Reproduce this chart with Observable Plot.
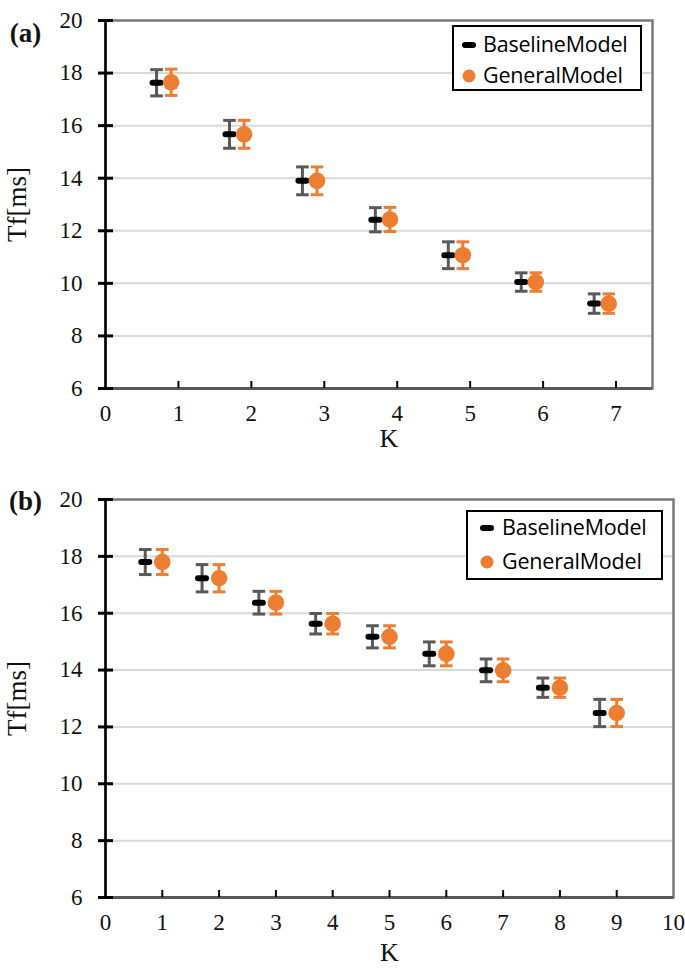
<!DOCTYPE html>
<html><head><meta charset="utf-8">
<script src="https://cdn.jsdelivr.net/npm/d3@7"></script>
<script src="https://cdn.jsdelivr.net/npm/@observablehq/plot@0.6"></script>
<style>
body{margin:0;background:#fff;}
#wrap{position:relative;width:685px;height:968px;overflow:hidden;background:#fff;}
.panel{position:absolute;left:0;}
.legend{position:absolute;border:2.5px solid #000;background:#fff;box-sizing:border-box;font-family:"Open Sans",sans-serif;font-size:21.5px;color:#000;}
.mk{position:absolute;transform:translate(-50%,-50%);}
.dash{width:14px;height:6px;border-radius:3px;background:#000;}
.circ{width:13px;height:13px;border-radius:50%;background:#ED7D31;}
.txt{position:absolute;white-space:nowrap;line-height:1;transform:translateY(-55%);letter-spacing:-0.2px;}
</style>
</head><body>
<div id="wrap"></div>
<script>
// ---- data (panel a) ----
const kA = [1, 2, 3, 4, 5, 6, 7];
const baselineA = [17.63, 15.67, 13.90, 12.42, 11.07, 10.05, 9.23];
const generalA  = [17.65, 15.67, 13.90, 12.43, 11.07, 10.05, 9.23];
const errA      = [0.50, 0.53, 0.53, 0.46, 0.51, 0.35, 0.37];
const xTicksA = [0, 1, 2, 3, 4, 5, 6, 7];
// ---- data (panel b) ----
const kB = [1, 2, 3, 4, 5, 6, 7, 8, 9];
const baselineB = [17.80, 17.23, 16.37, 15.63, 15.17, 14.57, 13.99, 13.38, 12.49];
const generalB  = [17.80, 17.23, 16.37, 15.63, 15.17, 14.57, 13.99, 13.38, 12.49];
const errB      = [0.44, 0.48, 0.40, 0.36, 0.39, 0.42, 0.40, 0.34, 0.48];
const xTicksB = [0, 1, 2, 3, 4, 5, 6, 7, 8, 9, 10];
const yTicks = [6, 8, 10, 12, 14, 16, 18, 20];
const seriesNames = ["BaselineModel", "GeneralModel"];

const ORANGE = "#ED7D31", GREY = "#595959";
const SERIF = "Liberation Serif";
const hline = {draw(ctx, size){ const r = Math.sqrt(size / Math.PI); ctx.moveTo(-r, 0); ctx.lineTo(r, 0); }};
const vline = {draw(ctx, size){ const r = Math.sqrt(size / Math.PI); ctx.moveTo(0, -r); ctx.lineTo(0, r); }};

function rows(k, v, e, off){ return k.map((kk, i) => ({x: kk + off, y: v[i], lo: v[i] - e[i], hi: v[i] + e[i]})); }

function panel(o){
  const rb = rows(o.k, o.base, o.err, o.offB);
  const rg = rows(o.k, o.gen, o.err, o.offG);
  const yt = yTicks.map(v => ({x: 0, y: v}));
  const xt = o.xTicks.filter(v => v > 0 && v < o.xMax).map(v => ({x: v, y: 6}));
  return Plot.plot({
    width: 685, height: o.height,
    marginTop: o.mt, marginBottom: o.mb, marginLeft: 105, marginRight: o.mr,
    x: {domain: [0, o.xMax], label: null},
    y: {domain: [6, 20], label: null},
    style: {fontFamily: SERIF, fontSize: "23px", background: "transparent", overflow: "visible"},
    marks: [
      Plot.ruleY(yTicks.filter(v => v > 6 && v < 20), {stroke: "#d9d9d9", strokeWidth: 2}),
      Plot.frame({stroke: "#7a7a7a", strokeWidth: 2.5}),
      Plot.ruleY([6], {stroke: "#595959", strokeWidth: 3}),
      Plot.ruleX([0], {stroke: "#000", strokeWidth: 2.5}),
      Plot.axisY(yTicks, {tickSize: 0, tickPadding: 23, fill: "#111", fontSize: 23, fontFamily: SERIF, label: null}),
      Plot.axisX(o.xTicks, {tickSize: 0, tickPadding: 16, fill: "#111", fontSize: 23, fontFamily: SERIF, label: null}),
      // y ticks crossing the axis
      Plot.dot(yt, {x: "x", y: "y", symbol: hline, r: 7.5, stroke: "#000", fill: "none", strokeWidth: 3}),
      // x ticks inside
      Plot.dot(xt, {x: "x", y: "y", dy: -4, symbol: vline, r: 3.5, stroke: "#000", fill: "none", strokeWidth: 2}),
      // baseline error bars
      Plot.ruleX(rb, {x: "x", y1: "lo", y2: "hi", stroke: GREY, strokeWidth: 3}),
      Plot.dot(rb, {x: "x", y: "hi", symbol: hline, r: 6.3, stroke: GREY, fill: "none", strokeWidth: 3}),
      Plot.dot(rb, {x: "x", y: "lo", symbol: hline, r: 6.3, stroke: GREY, fill: "none", strokeWidth: 3}),
      Plot.dot(rb, {x: "x", y: "y", symbol: hline, r: 4, stroke: "#000", fill: "none", strokeWidth: 6, strokeLinecap: "round"}),
      // general error bars
      Plot.ruleX(rg, {x: "x", y1: "lo", y2: "hi", stroke: ORANGE, strokeWidth: 3}),
      Plot.dot(rg, {x: "x", y: "hi", symbol: hline, r: 6.3, stroke: ORANGE, fill: "none", strokeWidth: 3}),
      Plot.dot(rg, {x: "x", y: "lo", symbol: hline, r: 6.3, stroke: ORANGE, fill: "none", strokeWidth: 3}),
      Plot.dot(rg, {x: "x", y: "y", r: 8.3, fill: ORANGE, stroke: "none"}),
      // labels
      Plot.text(["Tf[ms]"], {frameAnchor: "left", textAnchor: "middle", rotate: -90, dx: -88, fontSize: 27, fontFamily: SERIF, fill: "#111"}),
      Plot.text(["K"], {frameAnchor: "bottom", textAnchor: "middle", dx: o.kDx, dy: o.kDy, fontSize: 26, fontFamily: SERIF, fill: "#111"}),
      Plot.text([o.tag], {frameAnchor: "top-left", textAnchor: "middle", dx: -80, dy: o.tagDy, fontSize: 27, fontWeight: "bold", fontFamily: SERIF, fill: "#111"})
    ]
  });
}

const wrap = document.getElementById("wrap");
function addPanel(svg, top){ const d = document.createElement("div"); d.className = "panel"; d.style.top = top + "px"; d.appendChild(svg); wrap.appendChild(d); }
function addLegend(box){
  const L = document.createElement("div"); L.className = "legend";
  Object.assign(L.style, {left: box.left + "px", top: box.top + "px", width: box.w + "px", height: box.h + "px"});
  seriesNames.forEach((name, i) => {
    const y = box.rows[i];
    const m = document.createElement("div"); m.className = "mk " + (i === 0 ? "dash" : "circ");
    m.style.left = box.mx + "px"; m.style.top = y + "px"; L.appendChild(m);
    const t = document.createElement("div"); t.className = "txt"; t.textContent = name;
    t.style.left = box.tx + "px"; t.style.top = y + "px"; L.appendChild(t);
  });
  wrap.appendChild(L);
}

addPanel(panel({k: kA, base: baselineA, gen: generalA, err: errA, offB: -0.3, offG: -0.1, xMax: 7.5, xTicks: xTicksA,
  height: 460, mt: 20, mb: 72, mr: 33, tag: "(a)", tagDy: 2, kDx: 10, kDy: 58}), 0);
addPanel(panel({k: kB, base: baselineB, gen: generalB, err: errB, offB: -0.3, offG: 0, xMax: 10, xTicks: xTicksB,
  height: 488, mt: 19, mb: 71, mr: 12, tag: "(b)", tagDy: -9, kDx: 0, kDy: 63}), 480);

addLegend({left: 452, top: 25, w: 190, h: 66, mx: 15, tx: 29, rows: [18, 49]});
addLegend({left: 466, top: 510, w: 197, h: 70, mx: 19, tx: 34, rows: [16, 50]});
</script>
</body></html>
